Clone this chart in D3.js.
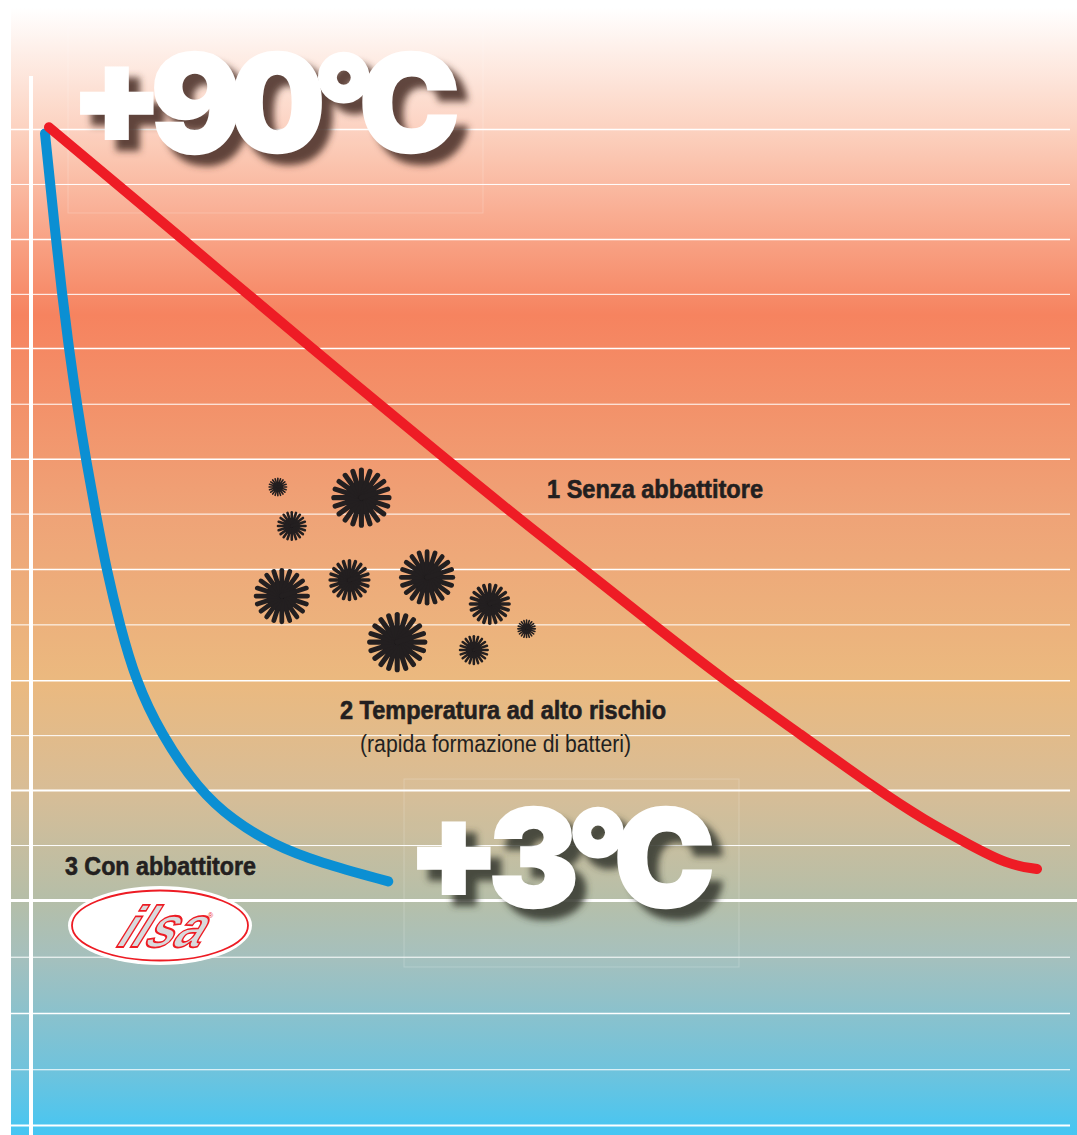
<!DOCTYPE html>
<html>
<head>
<meta charset="utf-8">
<style>
html,body{margin:0;padding:0;background:#fff;}
svg{display:block;}
text{font-family:"Liberation Sans",Arial,sans-serif;}
.lab{font-family:"Liberation Sans Narrow","Liberation Sans",sans-serif;fill:#231f20;stroke:#231f20;}
.big{font-family:Inter,"Liberation Sans",sans-serif;font-weight:900;}
</style>
</head>
<body>
<div id="chart"></div>
<script src="https://cdn.jsdelivr.net/npm/d3@7"></script>
<script>
// gridlines, in degrees
let gridTemps = [90,83.8,77.6,71.4,65.3,59,52.8,46.6,40.35,34.1,27.8,21.6,15.4,9.2,3,-3.4,-9.75,-16.1,-22.4];

// curve 1: senza abbattitore
let redTime = [0.4,13.9,25.6,40.4,49.7,54.1,61.1,68.3,75.9,83.6,88.4,92.8,96.7,99.7];
let redTemp = [90.2,77.5,66.4,52.6,44.2,40.35,34.1,27.8,21.7,15.5,12,9.3,7,6.5];

// curve 3: con abbattitore
let blueTime = [0,1,1.7,2.4,3.2,4.1,5.1,6.2,7.5,9.1,11.6,15.4,18.9,22.8,27.6,34.5];
let blueTemp = [89.5,78.6,71.5,65.3,59,52.8,46.6,40.2,34.1,27.8,21.8,15.5,12,9.3,7.2,5.1];

// bacteria in the high risk zone
let germTime = [23.4,31.8,24.8,23.8,30.6,38.4,44.7,48.4,35.4,43.1];
let germTemp = [49.6,48.4,45.2,37.3,39.1,39.4,36.4,33.6,32.1,31.2];
let germSize = [1,5,2,4,3,4,3,1,5,2];

let width = 1077;
let height = 1135;

let svg = d3.select("#chart")
	.append("svg")
	.attr("width", width)
	.attr("height", height);

let x = d3.scaleLinear().domain([0,100]).range([45,1040]);
let y = d3.scaleLinear().domain([90,3]).range([129,900]);
let germRadius = d3.scaleOrdinal().domain([1,2,3,4,5]).range([9.5,15,21,28,30]);

let defs = svg.append("defs");

let grad = defs.append("linearGradient")
	.attr("id","bg")
	.attr("gradientUnits","userSpaceOnUse")
	.attr("x1",0).attr("x2",0).attr("y1",8).attr("y2",1135);
let stops = [[8,"#ffffff"],[129,"#fcd2c0"],[214,"#f9ad92"],[315,"#f6835f"],[514,"#efa377"],[680,"#ebb97f"],[790,"#d8bd96"],[900,"#b5bea8"],[957,"#a5c0bd"],[1069,"#70c3dc"],[1135,"#45c6f3"]];
stops.forEach(function(s){
	grad.append("stop").attr("offset",(s[0]-8)/(1135-8)).attr("stop-color",s[1]);
});

let shadow = defs.append("filter").attr("id","shadow")
	.attr("x","-10%").attr("y","-20%").attr("width","125%").attr("height","150%");
shadow.append("feGaussianBlur").attr("stdDeviation",3.6);

// background
svg.append("rect")
	.attr("x",11).attr("y",8)
	.attr("width",width-11).attr("height",height-8)
	.attr("fill","url(#bg)");

// gridlines
let weights = [1.5,1,1.5,1,1.5,1,1.5,1,1.5,1,1.5,1,2,1,3,1,1.5,1,2];
let grid = svg.append("g")
	.attr("transform","translate(11,0)")
	.call(d3.axisLeft(y).tickValues(gridTemps).tickSize(-1059).tickSizeOuter(0).tickFormat(""));
grid.select(".domain").remove();
grid.selectAll(".tick line")
	.attr("stroke","#fff")
	.attr("stroke-width",function(d,i){return weights[i];})
	.attr("x2",function(d){return d==3?1066:1059;});

// vertical axis
svg.append("line")
	.attr("x1",31).attr("x2",31).attr("y1",76).attr("y2",height)
	.attr("stroke","#fff").attr("stroke-width",4);

// faint boxes behind the big temperatures
svg.append("rect").attr("x",68).attr("y",27).attr("width",415).attr("height",186)
	.attr("fill","#fff").attr("fill-opacity",0.02).attr("stroke","#fff").attr("stroke-opacity",0.2);
svg.append("rect").attr("x",404).attr("y",779).attr("width",335).attr("height",188)
	.attr("fill","#fff").attr("fill-opacity",0.02).attr("stroke","#fff").attr("stroke-opacity",0.2);

// curves
let line = d3.line()
	.x(function(d){return x(d[0]);})
	.y(function(d){return y(d[1]);})
	.curve(d3.curveBasis);

svg.append("path")
	.attr("d",line(d3.zip(blueTime,blueTemp)))
	.attr("fill","none").attr("stroke","#0b8fd3").attr("stroke-width",10).attr("stroke-linecap","round");
svg.append("path")
	.attr("d",line(d3.zip(redTime,redTemp)))
	.attr("fill","none").attr("stroke","#ee1c25").attr("stroke-width",10).attr("stroke-linecap","round");

// bacteria
germTime.forEach(function(t,i){
	let r = germRadius(germSize[i]);
	let g = svg.append("g")
		.attr("transform","translate("+x(t)+","+y(germTemp[i])+")");
	g.append("circle").attr("r",r*0.55).attr("fill","#231f20");
	let petals = d3.range(20);
	g.selectAll("line").data(petals).enter().append("line")
		.attr("x1",0).attr("y1",0)
		.attr("x2",function(d){return (r-r*0.08)*Math.cos(d/petals.length*2*Math.PI);})
		.attr("y2",function(d){return (r-r*0.08)*Math.sin(d/petals.length*2*Math.PI);})
		.attr("stroke","#231f20")
		.attr("stroke-width",r*0.17)
		.attr("stroke-linecap","round");
});

// big temperatures
function bigLabel(txt,px,py,size,w,shadowColor){
	svg.append("text").attr("class","big").attr("x",px+11).attr("y",py+11)
		.attr("font-size",size).attr("textLength",w).attr("lengthAdjust","spacing")
		.attr("fill",shadowColor).attr("fill-opacity",0.9)
		.attr("stroke",shadowColor).attr("stroke-width",2)
		.attr("filter","url(#shadow)").text(txt);
	svg.append("text").attr("class","big").attr("x",px).attr("y",py)
		.attr("font-size",size).attr("textLength",w).attr("lengthAdjust","spacing")
		.attr("fill","#fff").attr("stroke","#fff").attr("stroke-width",2.5)
		.text(txt);
}
bigLabel("+90°C",70,152,135,390,"#4f352b");
bigLabel("+3°C",407,907,135,308,"#3a3d33");

// labels
function label(txt,px,py,size,weight,w){
	svg.append("text").attr("class","lab")
		.attr("x",px).attr("y",py)
		.attr("font-size",size).attr("font-weight",weight)
		.attr("stroke-width",weight=="bold"?0.6:0)
		.attr("textLength",w).attr("lengthAdjust","spacingAndGlyphs")
		.text(txt);
}
label("1 Senza abbattitore",547,498,25,"bold",216);
label("2 Temperatura ad alto rischio",340,719,25,"bold",326);
label("(rapida formazione di batteri)",360,752,23,"normal",271);
label("3 Con abbattitore",65,875,25,"bold",191);

// logo
svg.append("ellipse").attr("cx",160).attr("cy",925.5).attr("rx",92).attr("ry",39.5).attr("fill","#fff");
svg.append("ellipse").attr("cx",160).attr("cy",925.5).attr("rx",88).attr("ry",35)
	.attr("fill","#fff").attr("stroke","#ed1c24").attr("stroke-width",1.8);
svg.append("text")
	.attr("transform","translate(113,947) skewX(-32)")
	.attr("font-size",58).attr("font-weight","bold")
	.attr("textLength",84).attr("lengthAdjust","spacingAndGlyphs")
	.attr("fill","#d9dadc").attr("stroke","#ed1c24").attr("stroke-width",1.8)
	.text("ilsa");
svg.append("text")
	.attr("x",208).attr("y",918)
	.attr("font-size",7).attr("fill","#ed1c24")
	.text("®");
</script>
</body>
</html>
